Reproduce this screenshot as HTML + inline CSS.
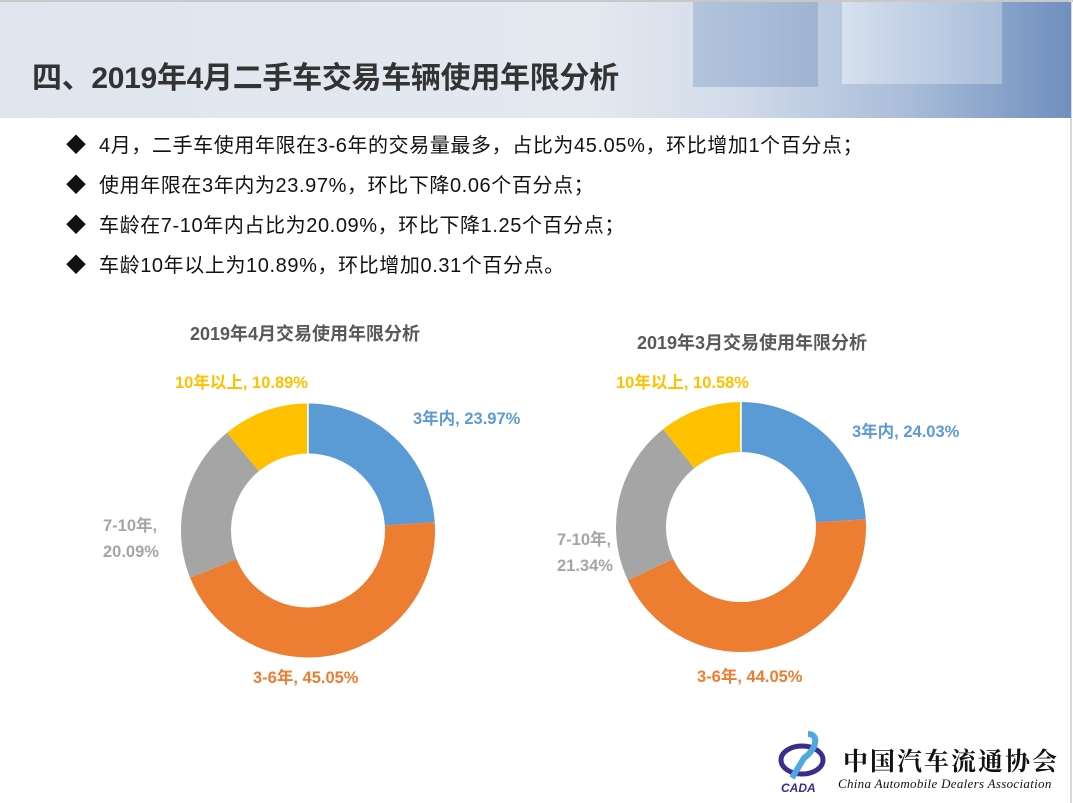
<!DOCTYPE html>
<html><head><meta charset="utf-8"><style>
html,body{margin:0;padding:0;}
body{width:1073px;height:803px;position:relative;background:#fff;overflow:hidden;font-family:"Liberation Sans","Noto Sans CJK SC",sans-serif;}
.hdr{position:absolute;left:0;top:2px;width:1071px;height:116px;background:linear-gradient(90deg,#dfe5ee 0%,#e4e9f0 55%,#d3dcea 68%,#a9bcd9 85%,#6f8fbe 100%);}
.t{position:absolute;left:32px;top:53px;font-size:30px;font-weight:bold;color:#333;letter-spacing:-0.3px;white-space:nowrap;}
.b{position:absolute;left:66px;font-size:20px;color:#111;white-space:nowrap;letter-spacing:0.6px;}
.b span{display:inline-block;width:33px;}
.lbl{position:absolute;font-size:16.5px;font-weight:bold;white-space:nowrap;}
.ct{position:absolute;font-size:18px;font-weight:bold;color:#595959;white-space:nowrap;}
</style></head><body>
<div style="position:absolute;left:0;top:0;width:1073px;height:2px;background:#c8c8c8"></div>
<div style="position:absolute;left:1070px;top:0;width:2px;height:803px;background:#d8d8d8"></div>
<div class="hdr"></div>
<div style="position:absolute;left:693px;top:2px;width:125px;height:85px;background:linear-gradient(90deg,#b3c4dc,#9fb4d3);"></div>
<div style="position:absolute;left:842px;top:2px;width:160px;height:82px;background:linear-gradient(90deg,#d6e0ee,#a9bdda);"></div>
<div class="t">四、2019年4月二手车交易车辆使用年限分析</div>
<div class="b" style="top:129px"><span>◆</span>4月，二手车使用年限在3-6年的交易量最多，占比为45.05%，环比增加1个百分点；</div>
<div class="b" style="top:169px"><span>◆</span>使用年限在3年内为23.97%，环比下降0.06个百分点；</div>
<div class="b" style="top:209px"><span>◆</span>车龄在7-10年内占比为20.09%，环比下降1.25个百分点；</div>
<div class="b" style="top:249px"><span>◆</span>车龄10年以上为10.89%，环比增加0.31个百分点。</div>
<div class="ct" style="left:190px;top:320px">2019年4月交易使用年限分析</div>
<div class="ct" style="left:637px;top:329px">2019年3月交易使用年限分析</div>
<svg style="position:absolute;left:0;top:0" width="1073" height="803">
<g transform="rotate(-90 308 530.5)" fill="none" stroke-width="50">
<circle cx="308" cy="530.5" r="102" pathLength="100" stroke="#5B9BD5" stroke-dasharray="23.97 100" stroke-dashoffset="0"/>
<circle cx="308" cy="530.5" r="102" pathLength="100" stroke="#ED7D31" stroke-dasharray="45.05 100" stroke-dashoffset="-23.97"/>
<circle cx="308" cy="530.5" r="102" pathLength="100" stroke="#A5A5A5" stroke-dasharray="20.09 100" stroke-dashoffset="-69.02"/>
<circle cx="308" cy="530.5" r="102" pathLength="100" stroke="#FFC000" stroke-dasharray="10.89 100" stroke-dashoffset="-89.11"/>
</g>
<g transform="rotate(-90 741 527)" fill="none" stroke-width="50">
<circle cx="741" cy="527" r="100" pathLength="100" stroke="#5B9BD5" stroke-dasharray="24.03 100" stroke-dashoffset="0"/>
<circle cx="741" cy="527" r="100" pathLength="100" stroke="#ED7D31" stroke-dasharray="44.05 100" stroke-dashoffset="-24.03"/>
<circle cx="741" cy="527" r="100" pathLength="100" stroke="#A5A5A5" stroke-dasharray="21.34 100" stroke-dashoffset="-68.08"/>
<circle cx="741" cy="527" r="100" pathLength="100" stroke="#FFC000" stroke-dasharray="10.58 100" stroke-dashoffset="-89.42"/>
</g>
<g stroke="#fff" stroke-width="1.5">
<line x1="308" y1="403" x2="308" y2="454"/><line x1="741" y1="402" x2="741" y2="452"/>
</g>
</svg>
<div class="lbl" style="left:175px;top:369px;color:#FFC000">10年以上, 10.89%</div>
<div class="lbl" style="left:413px;top:405px;color:#5B9BD5">3年内, 23.97%</div>
<div class="lbl" style="left:103px;top:513px;color:#A5A5A5;line-height:26px">7-10年,<br>20.09%</div>
<div class="lbl" style="left:253px;top:664px;color:#ED7D31">3-6年, 45.05%</div>
<div class="lbl" style="left:616px;top:369px;color:#FFC000">10年以上, 10.58%</div>
<div class="lbl" style="left:852px;top:418px;color:#5B9BD5">3年内, 24.03%</div>
<div class="lbl" style="left:557px;top:527px;color:#A5A5A5;line-height:26px">7-10年,<br>21.34%</div>
<div class="lbl" style="left:697px;top:663px;color:#ED7D31">3-6年, 44.05%</div>
<svg style="position:absolute;left:778px;top:730px" width="50" height="65">
<ellipse cx="24" cy="30" rx="21" ry="14" fill="none" stroke="#3a2d8c" stroke-width="5"/>
<path d="M30 4 C42 4 38 20 26 28 L14 48" fill="none" stroke="#4fa8e0" stroke-width="6"/>
<text x="3" y="62" font-size="12" font-weight="bold" font-style="italic" fill="#3a2d8c" font-family="Liberation Sans">CADA</text>
</svg>
<div style="position:absolute;left:843px;top:742px;font-size:25px;font-weight:bold;color:#111;letter-spacing:2px;white-space:nowrap;font-family:'Noto Serif CJK SC',serif">中国汽车流通协会</div>
<div style="position:absolute;left:838px;top:776px;font-size:13px;font-style:italic;color:#111;white-space:nowrap;font-family:'Liberation Serif',serif;letter-spacing:0.3px">China Automobile Dealers Association</div>
</body></html>
